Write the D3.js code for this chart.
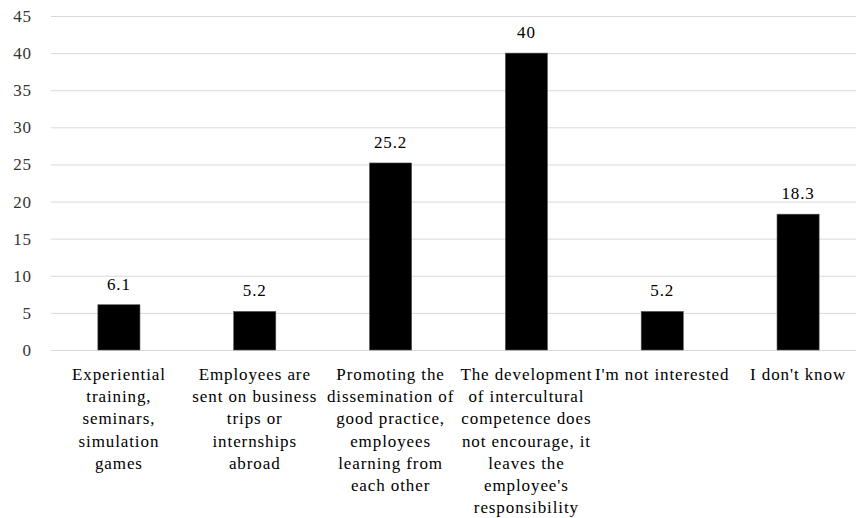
<!DOCTYPE html>
<html>
<head>
<meta charset="utf-8">
<script src="https://cdn.jsdelivr.net/npm/d3@7"></script>
<style>
  body { margin: 0; background: #fff; }
</style>
</head>
<body>
<svg width="856" height="518"></svg>
<script>
// bar chart: answers in percent

var categories = [
    ["Experiential", "training,", "seminars,", "simulation", "games"],
    ["Employees are", "sent on business", "trips or", "internships", "abroad"],
    ["Promoting the", "dissemination of", "good practice,", "employees", "learning from", "each other"],
    ["The development", "of intercultural", "competence does", "not encourage, it", "leaves the", "employee's", "responsibility"],
    ["I'm not interested"],
    ["I don't know"]
];
var values = [6.1, 5.2, 25.2, 40, 5.2, 18.3];
var valueLabels = ["6.1", "5.2", "25.2", "40", "5.2", "18.3"];
var yTicks = [0, 5, 10, 15, 20, 25, 30, 35, 40, 45];

var font = "'Liberation Serif'";
var spacing = "0.9px";

var svg = d3.select("svg");

var x = d3.scaleBand()
    .domain(d3.range(categories.length))
    .range([51, 866])
    .paddingInner(0.69)
    .paddingOuter(0.345);

var y = d3.scaleLinear()
    .domain([0, 45])
    .range([350, 16]);

// gridlines
svg.append("g")
    .selectAll("line")
    .data(yTicks)
    .enter()
    .append("line")
    .attr("x1", 51)
    .attr("x2", 866)
    .attr("y1", function(d) { return y(d) + 0.5; })
    .attr("y2", function(d) { return y(d) + 0.5; })
    .attr("stroke", "#d9d9d9")
    .attr("stroke-width", 1);

// y tick labels
svg.append("g")
    .selectAll("text")
    .data(yTicks)
    .enter()
    .append("text")
    .attr("x", 32)
    .attr("y", function(d) { return y(d); })
    .attr("dy", "0.35em")
    .attr("text-anchor", "end")
    .style("font-family", font)
    .style("font-size", "17px")
    .style("letter-spacing", spacing)
    .attr("fill", "#333")
    .text(function(d) { return d; });

// bars
svg.append("g")
    .selectAll("rect")
    .data(values)
    .enter()
    .append("rect")
    .attr("x", function(d, i) { return x(i); })
    .attr("y", function(d) { return y(d); })
    .attr("width", x.bandwidth())
    .attr("height", function(d) { return y(0) - y(d); })
    .attr("fill", "#000")
    .attr("stroke", "#555")
    .attr("stroke-width", 0.6);

// value labels
svg.append("g")
    .selectAll("text")
    .data(values)
    .enter()
    .append("text")
    .attr("x", function(d, i) { return x(i) + x.bandwidth() / 2; })
    .attr("y", function(d) { return y(d) - 15; })
    .attr("text-anchor", "middle")
    .style("font-family", font)
    .style("font-size", "17px")
    .style("letter-spacing", spacing)
    .attr("fill", "#000")
    .text(function(d, i) { return valueLabels[i]; });

// category labels
var cat = svg.append("g")
    .selectAll("text")
    .data(categories)
    .enter()
    .append("text")
    .attr("text-anchor", "middle")
    .style("font-family", font)
    .style("font-size", "17px")
    .style("letter-spacing", spacing)
    .attr("fill", "#000");

cat.selectAll("tspan")
    .data(function(d, i) { return d.map(function(line) { return { line: line, i: i }; }); })
    .enter()
    .append("tspan")
    .attr("x", function(d) { return x(d.i) + x.bandwidth() / 2; })
    .attr("y", function(d, j) { return 380 + j * 22.2; })
    .text(function(d) { return d.line; });
</script>
</body>
</html>
